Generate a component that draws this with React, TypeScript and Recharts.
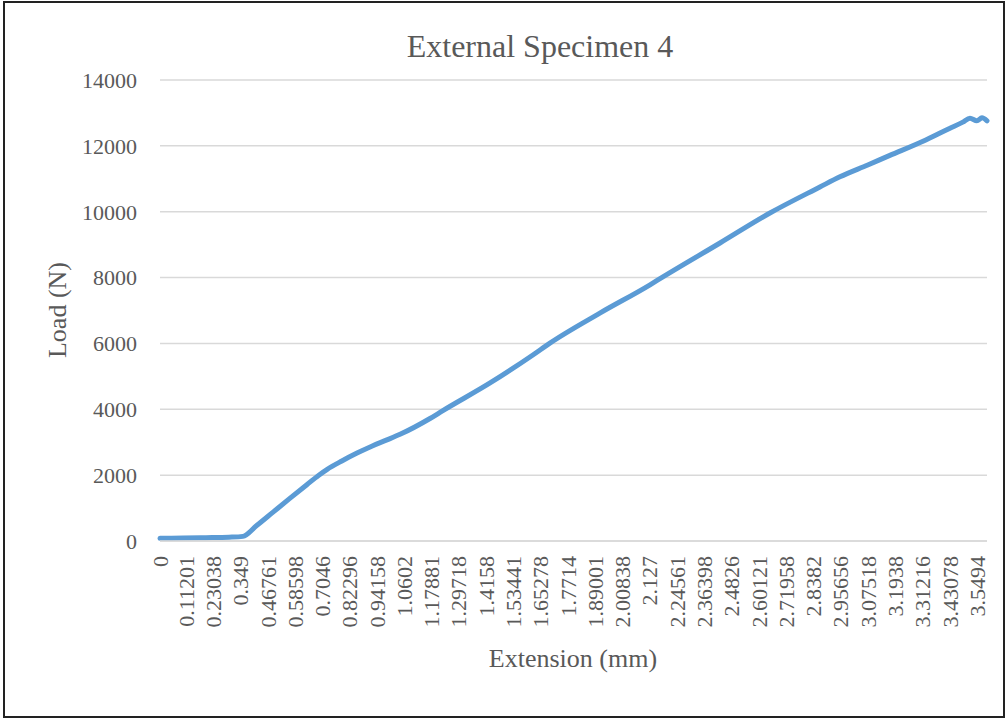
import { CartesianGrid, Line, LineChart, XAxis, YAxis } from 'recharts';

const extension = [
  0, 0.1, 0.2, 0.3, 0.36, 0.42, 0.49, 0.56, 0.638, 0.69, 0.725, 0.79, 0.856, 0.92, 0.986, 1.043, 1.173,
  1.229, 1.434, 1.62, 1.694, 1.911, 2.129, 2.185, 2.433, 2.65, 2.867, 2.954, 3.075, 3.171, 3.315, 3.43,
  3.488, 3.519, 3.549, 3.571, 3.593,
];
const load = [
  80, 90, 100, 115, 140, 470, 870, 1270, 1710, 2000, 2170, 2430, 2670, 2880, 3070, 3240, 3720,
  3960, 4800, 5650, 6010, 6920, 7780, 8020, 9050, 9960, 10750, 11060, 11420, 11710, 12140, 12530,
  12720, 12840, 12760, 12850, 12760,
];
const extensionTicks = [
  0, 0.11201, 0.23038, 0.349, 0.46761, 0.58598, 0.7046, 0.82296, 0.94158, 1.0602, 1.17881, 1.29718,
  1.4158, 1.53441, 1.65278, 1.7714, 1.89001, 2.00838, 2.127, 2.24561, 2.36398, 2.4826, 2.60121,
  2.71958, 2.8382, 2.95656, 3.07518, 3.1938, 3.31216, 3.43078, 3.5494,
];
const loadTicks = [0, 2000, 4000, 6000, 8000, 10000, 12000, 14000];

const data = extension.map((ext, i) => ({ ext, load: load[i] }));

const FONT = '"Liberation Serif", "Times New Roman", serif';
const TEXT = '#595959';

function ExtensionTick({ x, y, payload }: any) {
  return (
    <text
      x={x}
      y={y}
      dy="0.36em"
      transform={`rotate(-90 ${x} ${y})`}
      textAnchor="end"
      fill={TEXT}
      fontSize={22}
      fontFamily={FONT}
    >
      {payload.value}
    </text>
  );
}

export default function App() {
  return (
    <div style={{ position: 'absolute', left: 0, top: 0, width: 1007, height: 719, background: '#fff' }}>
      <div
        style={{
          position: 'absolute',
          left: 3,
          top: 1,
          width: 1002,
          height: 717,
          border: '2px solid #222',
          boxSizing: 'border-box',
        }}
      />
      <LineChart width={1007} height={719} data={data} margin={{ top: 80, right: 20, left: 0, bottom: 0 }}>
        <CartesianGrid vertical={false} stroke="#d9d9d9" strokeWidth={1.5} />
        <XAxis
          dataKey="ext"
          type="number"
          domain={[0, 3.593]}
          ticks={extensionTicks}
          interval={0}
          height={178}
          tickLine={false}
          tickMargin={9}
          axisLine={{ stroke: '#d9d9d9', strokeWidth: 1.5 }}
          tick={<ExtensionTick />}
        />
        <YAxis
          domain={[0, 14000]}
          ticks={loadTicks}
          width={160}
          axisLine={false}
          tickLine={false}
          tickMargin={17}
          tick={{ fill: TEXT, fontSize: 22, fontFamily: FONT }}
        />
        <Line
          type="monotone"
          dataKey="load"
          stroke="#5b9bd5"
          strokeWidth={5}
          strokeLinecap="round"
          strokeLinejoin="round"
          dot={false}
          isAnimationActive={false}
        />
      </LineChart>
      <svg
        width={1007}
        height={719}
        style={{ position: 'absolute', left: 0, top: 0, pointerEvents: 'none' }}
      >
        <text x={540} y={57} textAnchor="middle" fill={TEXT} fontSize={32} fontFamily={FONT}>
          External Specimen 4
        </text>
        <text x={573} y={667} textAnchor="middle" fill={TEXT} fontSize={26} fontFamily={FONT}>
          Extension (mm)
        </text>
        <text
          x={66}
          y={310}
          transform="rotate(-90 66 310)"
          textAnchor="middle"
          fill={TEXT}
          fontSize={26}
          fontFamily={FONT}
        >
          Load (N)
        </text>
      </svg>
    </div>
  );
}
